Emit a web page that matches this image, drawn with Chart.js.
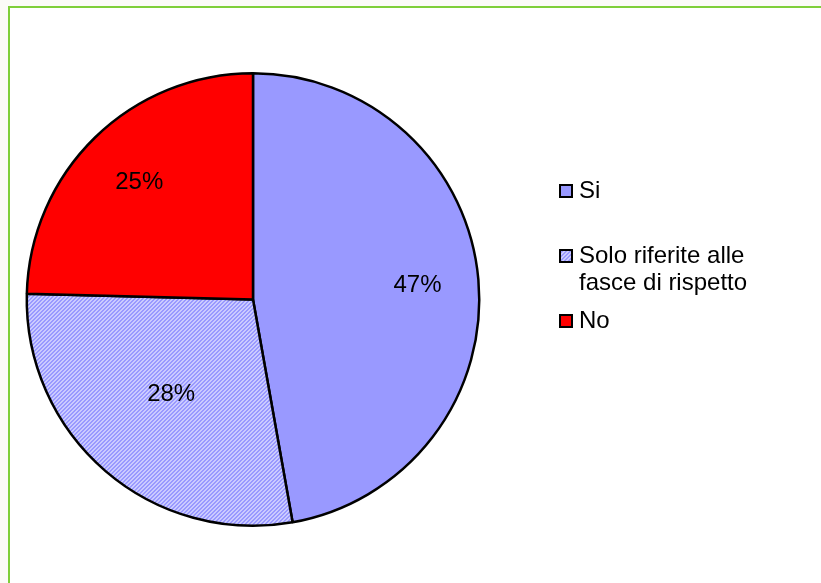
<!DOCTYPE html>
<html>
<head>
<meta charset="utf-8">
<script src="https://cdn.jsdelivr.net/npm/chart.js@4.4.0/dist/chart.umd.min.js"></script>
<style>
    html, body { margin: 0; padding: 0; background: #fbfbf8; }
    #wrap { position: relative; width: 821px; height: 583px; overflow: hidden; }
    #frame {
        position: absolute; left: 8px; top: 6px; width: 900px; height: 700px;
        background: #ffffff; border-left: 2px solid #7fcf3a; border-top: 2px solid #7fcf3a;
    }
    #chart { position: absolute; left: 0; top: 0; }
</style>
</head>
<body>
<div id="wrap">
    <div id="frame"></div>
    <canvas id="chart" width="821" height="583"></canvas>
</div>
<script>
// Data
const categories = ['Si', 'Solo riferite alle fasce di rispetto', 'No'];
const shares = [47.2, 28.2, 24.6];

// Label placement (fraction of radius) and legend baselines
const labelRadius = [0.73, 0.555, 0.72];
const legendBaselines = [198, 263, 328];

document.addEventListener('DOMContentLoaded', function() {
    // Hatched fill for "Solo riferite..."
    const tile = document.createElement('canvas');
    tile.width = 4;
    tile.height = 4;
    const tctx = tile.getContext('2d');
    for (let x = 0; x < 4; x++) {
        for (let y = 0; y < 4; y++) {
            tctx.fillStyle = ((x + y) % 4) < 2 ? '#9999ff' : '#cbcbff';
            tctx.fillRect(x, y, 1, 1);
        }
    }
    const canvas = document.getElementById('chart');
    const hatch = canvas.getContext('2d').createPattern(tile, 'repeat');
    const fills = ['#9999ff', hatch, '#ff0000'];

    const font = '24px "Liberation Sans", Arial, sans-serif';

    // Percent labels inside slices
    const sliceLabels = {
        id: 'sliceLabels',
        afterDatasetsDraw(chart) {
            const ctx = chart.ctx;
            const meta = chart.getDatasetMeta(0);
            const total = shares.reduce((a, b) => a + b, 0);
            ctx.save();
            ctx.font = font;
            ctx.fillStyle = '#000';
            ctx.textAlign = 'center';
            ctx.textBaseline = 'middle';
            meta.data.forEach((arc, i) => {
                const p = arc.getProps(['x', 'y', 'startAngle', 'endAngle', 'outerRadius'], true);
                const mid = (p.startAngle + p.endAngle) / 2;
                const r = p.outerRadius * labelRadius[i];
                const txt = Math.round(shares[i] / total * 100) + '%';
                ctx.fillText(txt, p.x + Math.cos(mid) * r, p.y + Math.sin(mid) * r);
            });
            ctx.restore();
        }
    };

    // Legend on the right with word wrap
    const sideLegend = {
        id: 'sideLegend',
        afterDraw(chart) {
            const ctx = chart.ctx;
            const boxX = 560, textX = 579, maxW = 180, lineH = 27;
            ctx.save();
            ctx.font = font;
            ctx.textBaseline = 'alphabetic';
            categories.forEach((name, i) => {
                const base = legendBaselines[i];
                ctx.fillStyle = fills[i];
                ctx.fillRect(boxX, base - 13, 12, 12);
                ctx.lineWidth = 2;
                ctx.strokeStyle = '#000';
                ctx.strokeRect(boxX, base - 13, 12, 12);

                const words = name.split(' ');
                let line = '';
                let y = base;
                ctx.fillStyle = '#000';
                words.forEach(w => {
                    const test = line ? line + ' ' + w : w;
                    if (line && ctx.measureText(test).width > maxW) {
                        ctx.fillText(line, textX, y);
                        line = w;
                        y += lineH;
                    } else {
                        line = test;
                    }
                });
                ctx.fillText(line, textX, y);
            });
            ctx.restore();
        }
    };

    new Chart(canvas, {
        type: 'pie',
        data: {
            labels: categories,
            datasets: [{
                data: shares,
                backgroundColor: fills,
                borderColor: '#000000',
                borderWidth: 2.5
            }]
        },
        options: {
            responsive: false,
            animation: false,
            layout: {
                padding: { left: 25.5, top: 72, right: 340.5, bottom: 56 }
            },
            plugins: {
                legend: { display: false },
                tooltip: { enabled: false }
            }
        },
        plugins: [sliceLabels, sideLegend]
    });
});
</script>
</body>
</html>
